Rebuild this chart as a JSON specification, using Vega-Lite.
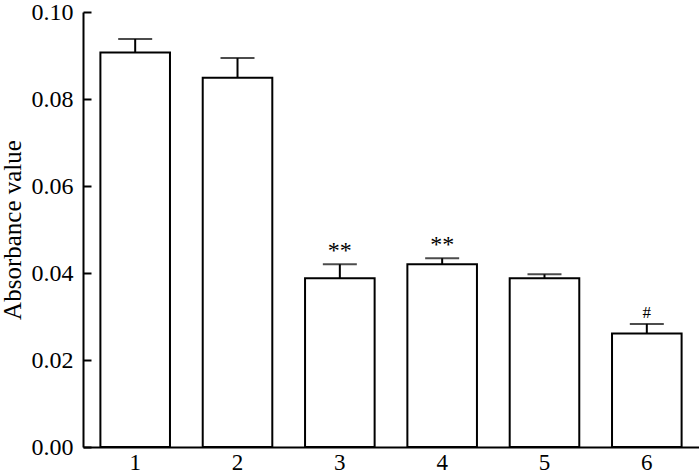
{
  "$schema": "https://vega.github.io/schema/vega-lite/v6.json",
  "autosize": {"type": "none"},
  "padding": {"left": 83, "top": 12, "right": 0, "bottom": 28},
  "width": 616,
  "height": 435,
  "background": "white",
  "config": {
    "view": {"stroke": null},
    "font": "Liberation Serif",
    "axis": {"domainColor": "black", "tickColor": "black", "labelColor": "black", "titleColor": "black", "grid": false, "domainWidth": 2, "tickWidth": 2, "labelFont": "Liberation Serif", "titleFont": "Liberation Serif", "labelFontSize": 24, "titleFontSize": 25, "titleFontWeight": "normal"}
  },
  "data": {
    "values": [
      {"group": "1", "value": 0.0907, "upper": 0.0938, "mark": ""},
      {"group": "2", "value": 0.0849, "upper": 0.0894, "mark": ""},
      {"group": "3", "value": 0.0388, "upper": 0.0420, "mark": "**"},
      {"group": "4", "value": 0.0420, "upper": 0.0434, "mark": "**"},
      {"group": "5", "value": 0.0388, "upper": 0.0397, "mark": ""},
      {"group": "6", "value": 0.0261, "upper": 0.0283, "mark": "#"}
    ]
  },
  "encoding": {
    "x": {
      "field": "group", "type": "nominal", "sort": null,
      "scale": {"paddingInner": 0.32, "paddingOuter": 0.17},
      "axis": {"title": null, "labelAngle": 0, "ticks": false, "labelPadding": 4, "labelFontSize": 23, "labelBaseline": "top"}
    }
  },
  "layer": [
    {
      "mark": {"type": "rule", "stroke": "black", "strokeWidth": 2},
      "encoding": {
        "y": {"field": "value", "type": "quantitative"},
        "y2": {"field": "upper"}
      }
    },
    {
      "mark": {"type": "tick", "color": "black", "thickness": 2, "size": 34},
      "encoding": {
        "y": {"field": "upper", "type": "quantitative"}
      }
    },
    {
      "mark": {"type": "bar", "fill": "white", "stroke": "black", "strokeWidth": 2},
      "encoding": {
        "y": {
          "field": "value", "type": "quantitative",
          "scale": {"domain": [0, 0.1], "nice": false},
          "axis": {"title": "Absorbance value", "values": [0, 0.02, 0.04, 0.06, 0.08, 0.1], "format": ".2f", "tickSize": -8, "labelPadding": 18, "titlePadding": 6}
        }
      }
    },
    {
      "transform": [{"filter": "datum.mark == '**'"}],
      "mark": {"type": "text", "fontSize": 24, "dy": -13, "baseline": "middle", "font": "Liberation Serif", "color": "black"},
      "encoding": {
        "y": {"field": "upper", "type": "quantitative"},
        "text": {"field": "mark"}
      }
    },
    {
      "transform": [{"filter": "datum.mark == '#'"}],
      "mark": {"type": "text", "fontSize": 17, "dy": -11, "baseline": "middle", "font": "Liberation Serif", "color": "black"},
      "encoding": {
        "y": {"field": "upper", "type": "quantitative"},
        "text": {"field": "mark"}
      }
    }
  ]
}
